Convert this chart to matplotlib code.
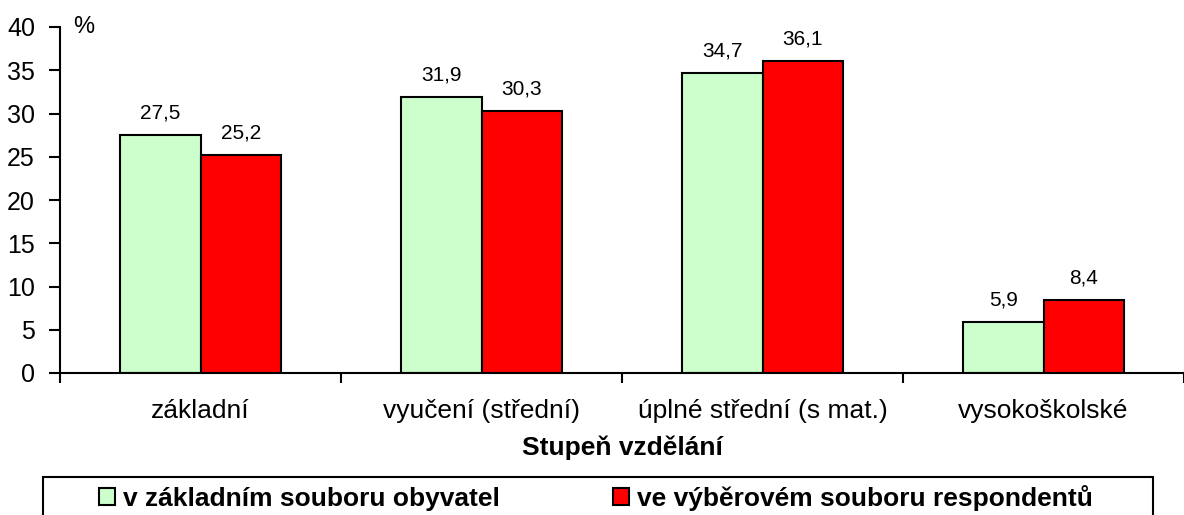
import matplotlib.pyplot as plt
from matplotlib.patches import Rectangle
import numpy as np

plt.rcParams['font.family'] = ['Liberation Sans', 'DejaVu Sans']

categories = ["základní", "vyučení (střední)", "úplné střední (s mat.)", "vysokoškolské"]
obyvatel = [27.5, 31.9, 34.7, 5.9]
respondenti = [25.2, 30.3, 36.1, 8.4]
series_names = ["v základním souboru obyvatel", "ve výběrovém souboru respondentů"]

fig = plt.figure(figsize=(11.84, 5.15), dpi=100)
ax = fig.add_axes([60 / 1184, 1 - 373 / 515, 1 - 60 / 1184, (373 - 27) / 515])

x = np.arange(len(categories))
w = 0.287
b1 = ax.bar(x - w / 2, obyvatel, w, color='#ccffcc', edgecolor='black', linewidth=1.5, label=series_names[0])
b2 = ax.bar(x + w / 2, respondenti, w, color='#ff0000', edgecolor='black', linewidth=1.5, label=series_names[1])

for bars, vals in [(b1, obyvatel), (b2, respondenti)]:
    ax.bar_label(bars, labels=[f"{v:.1f}".replace('.', ',') for v in vals], padding=9, fontsize=15)

ax.set_ylim(0, 40)
ax.set_yticks(range(0, 41, 5))
ax.set_xlim(-0.5, 3.5 - 4 / 282)
ax.set_xticks(x)
ax.set_xticklabels(categories, fontsize=19)
ax.set_xticks(np.arange(-0.5, 3.6, 1), minor=True)
ax.tick_params(axis='x', which='major', length=0, pad=19)
ax.tick_params(axis='x', which='minor', length=7, width=1.5, direction='out')
ax.tick_params(axis='y', length=8, width=1.5, labelsize=18, pad=10)

for s in ['top', 'right']:
    ax.spines[s].set_visible(False)
for s in ['left', 'bottom']:
    ax.spines[s].set_linewidth(1.5)

ax.set_xlabel("Stupeň vzdělání", fontsize=19, fontweight='bold', labelpad=9)
ax.text(13 / 1124, 40, "%", fontsize=17, va='center', ha='left', transform=ax.get_yaxis_transform())

# legend box
fig.patches.append(Rectangle((43 / 1184, -0.05), 1110 / 1184, 1 - 477 / 515 + 0.05,
                             transform=fig.transFigure, fill=False, edgecolor='black', linewidth=1.5))
leg = fig.legend(handles=[b1, b2], loc='center left', bbox_to_anchor=(99 / 1184, 1 - 498 / 515),
                 ncol=2, frameon=False, handlelength=0.6, handleheight=0.6, handletextpad=0.3,
                 columnspacing=4.3, borderpad=0, borderaxespad=0,
                 prop={'size': 19, 'weight': 'bold'})

fig.savefig('out.png', dpi=100)
